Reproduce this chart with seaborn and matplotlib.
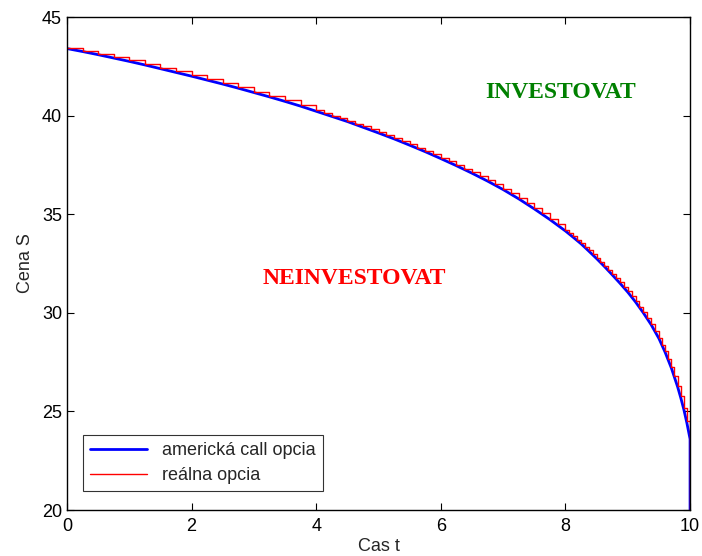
import pandas as pd
import matplotlib
matplotlib.use("Agg")
import matplotlib.pyplot as plt
import seaborn as sns

# ---- data ----
# american call option boundary (smooth blue curve)
t_american = [0, 0.25, 0.5, 0.75, 1, 1.25, 1.5, 1.75, 2, 2.25, 2.5, 2.75, 3,
              3.25, 3.5, 3.75, 4, 4.25, 4.5, 4.75, 5, 5.25, 5.5, 5.75, 6, 6.25,
              6.5, 6.75, 7, 7.25, 7.5, 7.75, 8, 8.125, 8.25, 8.375, 8.5, 8.625,
              8.75, 8.875, 9, 9.125, 9.25, 9.375, 9.5, 9.6, 9.7, 9.8, 9.85,
              9.9, 9.95, 10, 10]
american = [43.40, 43.25, 43.09, 42.92, 42.75, 42.57, 42.38, 42.19, 42.00,
            41.80, 41.60, 41.39, 41.17, 40.95, 40.72, 40.48, 40.22, 39.96,
            39.70, 39.41, 39.12, 38.82, 38.50, 38.17, 37.82, 37.46, 37.08,
            36.68, 36.25, 35.78, 35.27, 34.73, 34.15, 33.83, 33.50, 33.13,
            32.75, 32.35, 31.93, 31.50, 31.05, 30.55, 30.00, 29.40, 28.70,
            28.00, 27.20, 26.25, 25.70, 25.10, 24.40, 23.60, 20.0]

# real option boundary (red staircase, corners of the steps)
t_real = [0, 0.25, 0.5, 0.75, 1, 1.25, 1.5, 1.75, 2, 2.25, 2.5, 2.75, 3, 3.25,
          3.5, 3.75, 4, 4.125, 4.25, 4.375, 4.5, 4.625, 4.75, 4.875, 5, 5.125,
          5.25, 5.375, 5.5, 5.625, 5.75, 5.875, 6, 6.125, 6.25, 6.375, 6.5,
          6.625, 6.75, 6.875, 7, 7.125, 7.25, 7.375, 7.5, 7.625, 7.75, 7.875,
          8, 8.0625, 8.125, 8.1875, 8.25, 8.3125, 8.375, 8.4375, 8.5, 8.5625,
          8.625, 8.6875, 8.75, 8.8125, 8.875, 8.9375, 9, 9.0625, 9.125,
          9.1875, 9.25, 9.3125, 9.375, 9.4375, 9.5, 9.55, 9.6, 9.65, 9.7,
          9.75, 9.8, 9.85, 9.9, 9.95, 10, 10]
real = [43.45, 43.30, 43.14, 42.97, 42.80, 42.62, 42.43, 42.24, 42.05, 41.85,
        41.65, 41.44, 41.22, 41.00, 40.77, 40.53, 40.26, 40.13, 40.00, 39.87,
        39.74, 39.60, 39.45, 39.31, 39.16, 39.01, 38.86, 38.70, 38.54, 38.38,
        38.21, 38.04, 37.86, 37.68, 37.50, 37.31, 37.12, 36.92, 36.72, 36.51,
        36.29, 36.06, 35.82, 35.57, 35.31, 35.04, 34.77, 34.48, 34.19, 34.03,
        33.87, 33.71, 33.54, 33.36, 33.17, 32.98, 32.79, 32.59, 32.39, 32.18,
        31.97, 31.76, 31.54, 31.32, 31.09, 30.84, 30.59, 30.32, 30.04, 29.75,
        29.44, 29.10, 28.74, 28.39, 28.04, 27.65, 27.24, 26.78, 26.29, 25.76,
        25.16, 24.50, 24.30, 20.0]

df_am = pd.DataFrame({"t": t_american, "S": american})
df_re = pd.DataFrame({"t": t_real, "S": real})

sns.set_style("ticks")
plt.rcParams["font.family"] = ["Liberation Sans", "DejaVu Sans"]

fig = plt.figure(figsize=(7.02, 5.56), dpi=100)
ax = fig.add_axes([0.0954, 0.0827, 0.8876, 0.8867])

sns.lineplot(data=df_am, x="t", y="S", ax=ax, color="#0000ff", linewidth=2,
             estimator=None, sort=False, label="americká call opcia")
sns.lineplot(data=df_re, x="t", y="S", ax=ax, color="#ff0000", linewidth=1,
             estimator=None, sort=False, drawstyle="steps-post",
             label="reálna opcia")

ax.text(7.93, 41.15, "INVESTOVAT", color="#008000", fontsize=17,
        fontweight="bold", family=["Liberation Serif", "DejaVu Serif"],
        ha="center", va="center")
ax.text(4.61, 31.76, "NEINVESTOVAT", color="#ff0000", fontsize=17,
        fontweight="bold", family=["Liberation Serif", "DejaVu Serif"],
        ha="center", va="center")

ax.set_xlim(0, 10)
ax.set_ylim(20, 45)
ax.set_xticks(range(0, 11, 2))
ax.set_yticks(range(20, 46, 5))
ax.set_xlabel("Cas t", fontsize=13, labelpad=2)
ax.set_ylabel("Cena S", fontsize=13, labelpad=6)
ax.tick_params(axis="x", pad=6)
ax.tick_params(direction="in", top=True, right=True, labelsize=13,
               length=5, width=0.8, colors="black")
for s in ax.spines.values():
    s.set_visible(True)
    s.set_linewidth(1)
    s.set_color("black")

leg = ax.legend(loc="lower left", bbox_to_anchor=(0.026, 0.038), fontsize=13,
                frameon=True, fancybox=False, edgecolor="black",
                borderaxespad=0, handlelength=3.15, labelspacing=0.45,
                borderpad=0.4)
leg.get_frame().set_linewidth(0.8)

fig.savefig("out.png", dpi=100)
